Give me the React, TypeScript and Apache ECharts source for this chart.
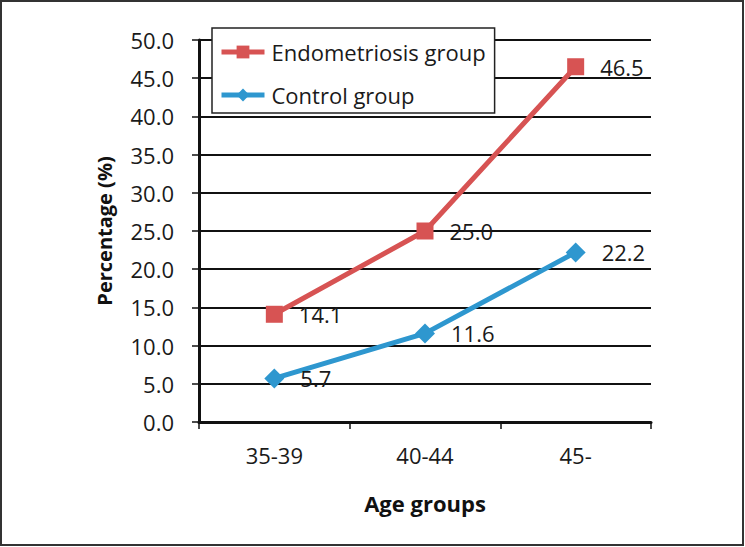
import React, { useEffect, useRef } from "react";
import * as echarts from "echarts";

const categories = ["35-39", "40-44", "45-"];
const endometriosis = [14.1, 25.0, 46.5];
const control = [5.7, 11.6, 22.2];
const seriesNames = ["Endometriosis group", "Control group"];

const FONT = "'Open Sans', 'Liberation Sans', sans-serif";

export default function App() {
  const ref = useRef<HTMLDivElement>(null);
  useEffect(() => {
    if (!ref.current) return;
    const chart = echarts.init(ref.current, undefined, { renderer: "svg" });
    const labelCfg = {
      show: true,
      position: "right",
      distance: 16,
      fontSize: 22,
      fontFamily: FONT,
      color: "#1a1a1a",
      formatter: (p: any) => Number(p.value).toFixed(1),
    };
    chart.setOption({
      animation: false,
      backgroundColor: "#fff",
      graphic: [
        {
          type: "rect",
          shape: { x: 1, y: 1, width: 742, height: 544 },
          style: { fill: "none", stroke: "#333", lineWidth: 2 },
          silent: true,
          z: 100,
        },
      ],
      grid: { left: 199, right: 94, top: 40, bottom: 125, containLabel: false },
      legend: {
        orient: "vertical",
        left: 212,
        top: 28,
        padding: [10, 9, 4, 7],
        itemGap: 15,
        itemWidth: 43,
        itemHeight: 16,
        backgroundColor: "#fff",
        borderColor: "#222",
        borderWidth: 1.5,
        borderRadius: 0,
        lineStyle: { width: 5 },
        textStyle: {
          fontSize: 22,
          lineHeight: 28,
          fontFamily: FONT,
          color: "#1a1a1a",
          padding: [0, 0, 0, 2],
        },
        data: seriesNames,
        z: 10,
      },
      xAxis: {
        type: "category",
        data: categories,
        boundaryGap: true,
        axisLine: { lineStyle: { color: "#111", width: 3 } },
        axisTick: { show: true, length: 7, lineStyle: { color: "#111", width: 1.5 } },
        axisLabel: { fontSize: 22, fontFamily: FONT, color: "#1a1a1a", margin: 22 },
        name: "Age groups",
        nameLocation: "middle",
        nameGap: 70,
        nameTextStyle: { fontSize: 22, fontWeight: "bold", fontFamily: FONT, color: "#111" },
      },
      yAxis: {
        type: "value",
        min: 0,
        max: 50,
        interval: 5,
        axisLine: { show: true, lineStyle: { color: "#111", width: 3 } },
        axisTick: { show: true, length: 7, lineStyle: { color: "#111", width: 1.5 } },
        splitLine: { show: true, lineStyle: { color: "#111", width: 2 } },
        axisLabel: {
          fontSize: 22,
          fontFamily: FONT,
          color: "#1a1a1a",
          margin: 25,
          formatter: (v: number) => v.toFixed(1),
        },
        name: "Percentage (%)",
        nameLocation: "middle",
        nameGap: 85,
        nameTextStyle: { fontSize: 20, fontWeight: "bold", fontFamily: FONT, color: "#111" },
      },
      series: [
        {
          name: seriesNames[0],
          type: "line",
          data: endometriosis,
          symbol: "rect",
          symbolSize: 17,
          lineStyle: { color: "#d75353", width: 5 },
          itemStyle: { color: "#d75353" },
          label: labelCfg,
          z: 3,
        },
        {
          name: seriesNames[1],
          type: "line",
          data: control,
          symbol: "diamond",
          symbolSize: 20,
          lineStyle: { color: "#2e97cf", width: 5 },
          itemStyle: { color: "#2e97cf" },
          label: labelCfg,
          z: 3,
        },
      ],
    });
    return () => chart.dispose();
  }, []);
  return (
    <div
      ref={ref}
      style={{ position: "fixed", left: 0, top: 0, width: 745, height: 547 }}
    />
  );
}
